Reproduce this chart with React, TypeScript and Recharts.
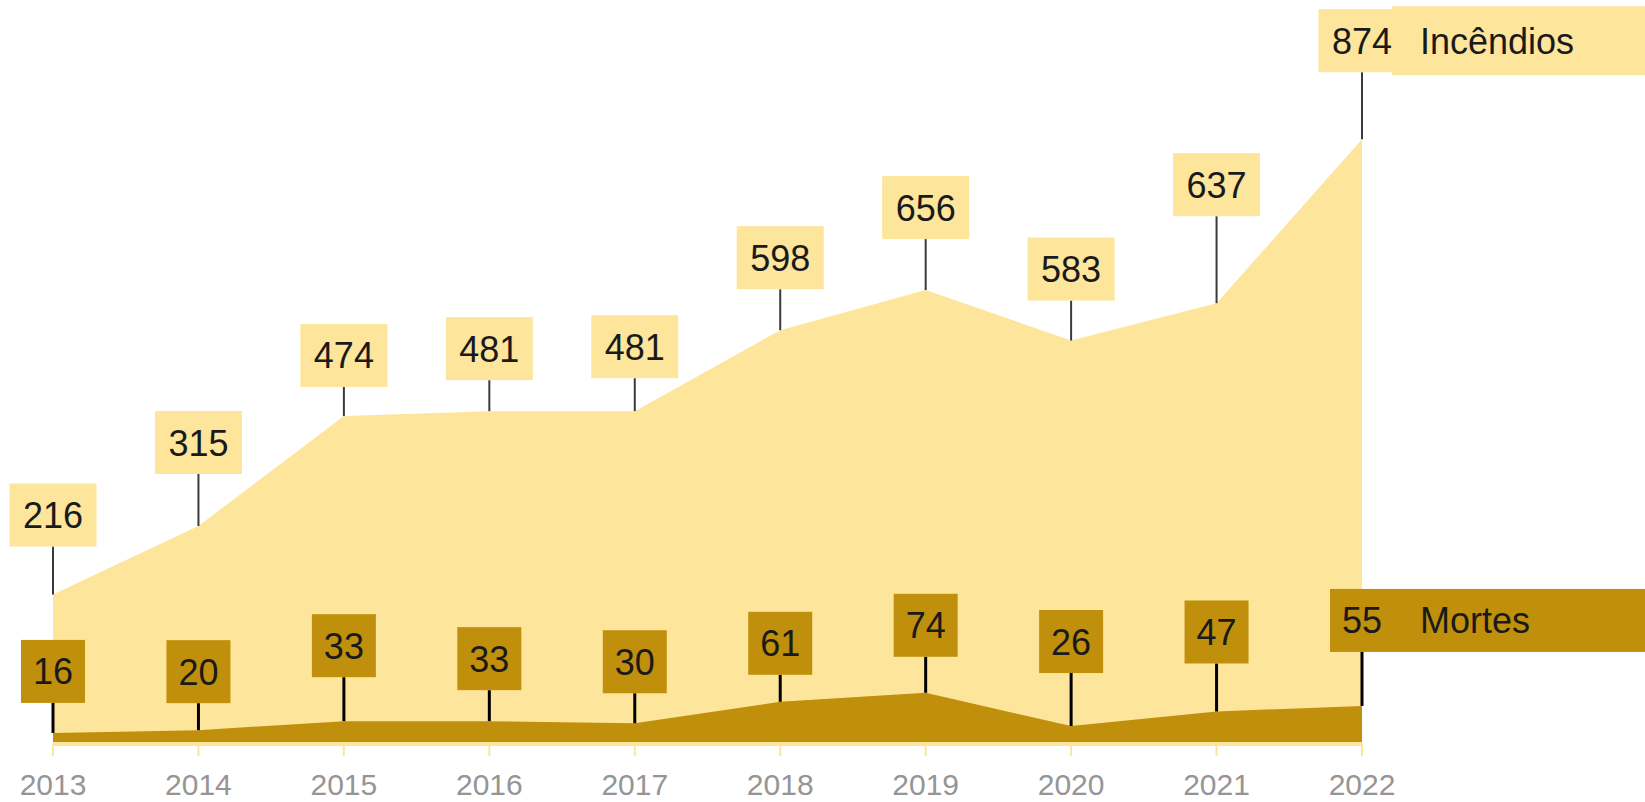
import { Area, ComposedChart, LabelList, XAxis, YAxis } from "recharts";

const YEARS = ["2013", "2014", "2015", "2016", "2017", "2018", "2019", "2020", "2021", "2022"];
const INCENDIOS = [216, 315, 474, 481, 481, 598, 656, 583, 637, 874];
const MORTES = [16, 20, 33, 33, 30, 61, 74, 26, 47, 55];

// gap in px between each point and its label box (repelled labels)
const FIRE_LIFT = [48, 52, 29, 31, 33, 41, 51, 40, 87, 67];
const DEATH_LIFT = [30, 27, 44, 31, 30, 27, 36, 53, 48, 54];

const LIGHT = "#fde59b";
const GOLD = "#c0900c";
const WIDTH = 1645;
const HEIGHT = 802;

const data = YEARS.map((year, i) => ({
  year,
  incendios: INCENDIOS[i],
  mortes: MORTES[i],
}));

function StemLabel(props: any) {
  const { x, y, value, index, lift, fill, stem, stemWidth, legend, bandPad } = props;
  if (x == null || y == null) return null;
  const text = String(value);
  const w = text.length * 23 + 18;
  const h = 63;
  const bottom = y - lift[index];
  const top = bottom - h;
  const isLast = index === YEARS.length - 1;

  return (
    <g>
      <line x1={x} y1={y} x2={x} y2={bottom} stroke={stem} strokeWidth={stemWidth} />
      {isLast ? (
        <rect x={x + 30} y={top - bandPad} width={WIDTH - x - 30} height={h + bandPad * 2} fill={fill} />
      ) : null}
      <rect x={x - w / 2} y={top} width={w} height={h} fill={fill} />
      <text
        x={x}
        y={top + h / 2 + 13}
        textAnchor="middle"
        fontSize={36}
        fill="#1a1a1a"
      >
        {text}
      </text>
      {isLast ? (
        <text x={1420} y={top + h / 2 + 13} fontSize={36} fill="#1a1a1a">
          {legend}
        </text>
      ) : null}
    </g>
  );
}

export default function App() {
  return (
    <div
      style={{
        position: "absolute",
        left: 0,
        top: 0,
        width: WIDTH,
        height: HEIGHT,
        background: "#fff",
        fontFamily: "'Liberation Sans', Arial, sans-serif",
      }}
    >
      <ComposedChart
        width={WIDTH}
        height={HEIGHT}
        data={data}
        margin={{ top: 52, right: 283, bottom: 0, left: 53 }}
      >
        <XAxis
          dataKey="year"
          height={58}
          padding={{ left: 0, right: 0 }}
          axisLine={{ stroke: LIGHT, strokeWidth: 4 }}
          tickLine={{ stroke: LIGHT, strokeWidth: 2 }}
          tickSize={12}
          tickMargin={18}
          tick={{ fontSize: 30, fill: "#959595" }}
          interval={0}
        />
        <YAxis hide domain={[0, 1000]} />
        <Area
          type="linear"
          dataKey="incendios"
          stroke="none"
          fill={LIGHT}
          fillOpacity={1}
          isAnimationActive={false}
        >
          <LabelList
            dataKey="incendios"
            content={(p: any) => (
              <StemLabel
                {...p}
                lift={FIRE_LIFT}
                fill={LIGHT}
                stem="#3a3a3a"
                stemWidth={2}
                legend="Incêndios"
                bandPad={3}
              />
            )}
          />
        </Area>
        <Area
          type="linear"
          dataKey="mortes"
          stroke="none"
          fill={GOLD}
          fillOpacity={1}
          isAnimationActive={false}
        >
          <LabelList
            dataKey="mortes"
            content={(p: any) => (
              <StemLabel
                {...p}
                lift={DEATH_LIFT}
                fill={GOLD}
                stem="#000"
                stemWidth={3}
                legend="Mortes"
                bandPad={0}
              />
            )}
          />
        </Area>
      </ComposedChart>
    </div>
  );
}
